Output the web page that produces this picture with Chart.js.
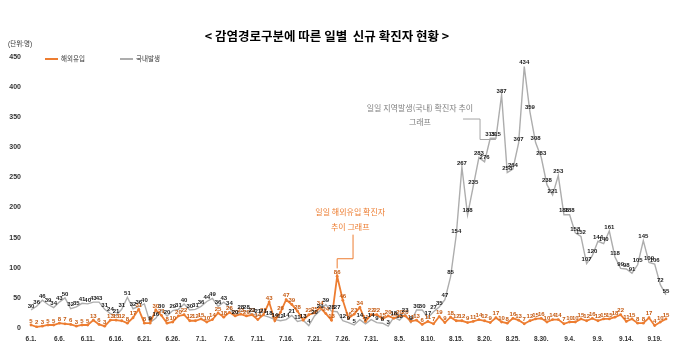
<!DOCTYPE html>
<html lang="ko">
<head>
<meta charset="utf-8">
<title>감염경로구분에 따른 일별 신규 확진자 현황</title>
<script src="https://cdn.jsdelivr.net/npm/chart.js@4.4.1/dist/chart.umd.min.js"></script>
<style>
    html, body { margin: 0; padding: 0; background: #fff; }
    #chart-wrap { position: relative; width: 680px; height: 353px; }
</style>
</head>
<body>
<div id="chart-wrap"><canvas id="cases-chart"></canvas></div>
<script>
// --- Data (2020.6.1. ~ 9.21.) ---
const months = [6, 7, 8, 9];
const daysShown = [30, 31, 31, 21];

const domesticJun = [30, 36, 46, 39, 34, 43, 50, 32, 35, 41, 40, 43, 43, 31, 24, 21, 31, 51, 32, 36, 40, 9, 16, 30, 20, 29, 31, 40, 30, 31];
const domesticJul = [36, 44, 49, 36, 43, 34, 20, 28, 28, 23, 21, 21, 18, 14, 12, 14, 21, 11, 13, 4, 20, 29, 39, 28, 27, 12, 9, 5, 14, 7, 14];
const domesticAug = [9, 8, 3, 18, 13, 23, 9, 30, 30, 17, 27, 35, 47, 85, 154, 267, 188, 235, 283, 276, 315, 315, 387, 258, 264, 307, 434, 359, 308, 283, 238];
const domesticSep = [221, 253, 188, 188, 158, 152, 107, 120, 144, 140, 161, 118, 99, 98, 91, 105, 145, 109, 106, 72, 55];

const importedJun = [5, 2, 3, 5, 5, 8, 7, 6, 3, 5, 5, 13, 6, 3, 13, 13, 12, 8, 17, 31, 8, 8, 30, 21, 8, 10, 20, 22, 12, 12];
const importedJul = [15, 10, 14, 25, 18, 26, 20, 23, 20, 22, 14, 22, 43, 12, 26, 47, 39, 28, 13, 22, 25, 34, 24, 13, 86, 46, 16, 23, 34, 11, 22];
const importedAug = [22, 15, 20, 16, 20, 20, 11, 13, 6, 11, 7, 19, 9, 18, 12, 12, 9, 11, 14, 12, 9, 17, 10, 8, 16, 13, 7, 12, 15, 16, 10];
const importedSep = [14, 14, 7, 10, 10, 15, 12, 16, 12, 15, 15, 18, 22, 11, 15, 8, 8, 17, 4, 10, 15];

const yTicks = [0, 50, 100, 150, 200, 250, 300, 350, 400, 450];

const titleText = '< 감염경로구분에 따른 일별  신규 확진자 현황 >';
const unitText = '(단위:명)';
const seriesNames = ['해외유입', '국내발생'];
const domesticNote = ['일일 지역발생(국내) 확진자 추이', '그래프'];
const importedNote = ['일일 해외유입 확진자', '추이 그래프'];

// --- Build categories ("6.1." ...) ---
const dayLabels = [];
months.forEach((m, i) => {
    for (let d = 1; d <= daysShown[i]; d++) dayLabels.push(`${m}.${d}.`);
});
const domestic = [...domesticJun, ...domesticJul, ...domesticAug, ...domesticSep];
const imported = [...importedJun, ...importedJul, ...importedAug, ...importedSep];

const FONT = "'Liberation Sans', 'Noto Sans CJK KR', sans-serif";
const ORANGE = '#ed7d31';
const GRAY = '#adadad';

// --- Plugins ---
// value labels just above every point
const valueLabels = {
    id: 'valueLabels',
    afterDatasetsDraw(chart) {
        const ctx = chart.ctx;
        ctx.save();
        ctx.font = `bold 6px ${FONT}`;
        ctx.textAlign = 'center';
        ctx.textBaseline = 'middle';
        chart.data.datasets.forEach((ds, i) => {
            const meta = chart.getDatasetMeta(i);
            ctx.fillStyle = ds.labelColor;
            meta.data.forEach((pt, j) => {
                ctx.fillText(ds.data[j], pt.x, pt.y - 4);
            });
        });
        ctx.restore();
    }
};

// title, unit, legend and the two call-out notes
const decorations = {
    id: 'decorations',
    afterDraw(chart) {
        const { ctx, scales: { x, y } } = chart;
        ctx.save();

        ctx.fillStyle = '#000';
        ctx.textAlign = 'center';
        ctx.textBaseline = 'middle';
        ctx.font = `bold 12.5px 'Noto Sans CJK KR', sans-serif`;
        ctx.fillText(titleText, 327, 36);

        ctx.textAlign = 'left';
        ctx.font = `6.5px ${FONT}`;
        ctx.fillStyle = '#333';
        ctx.fillText(unitText, 8, 44);

        // legend
        const legendItems = [[ORANGE, 45], [GRAY, 120]];
        legendItems.forEach(([color, lx], i) => {
            ctx.strokeStyle = color;
            ctx.lineWidth = 2;
            ctx.beginPath();
            ctx.moveTo(lx, 59);
            ctx.lineTo(lx + 13, 59);
            ctx.stroke();
            ctx.fillStyle = '#333';
            ctx.font = `6.5px ${FONT}`;
            ctx.fillText(seriesNames[i], lx + 16, 59);
        });

        // domestic note + connector
        ctx.textAlign = 'center';
        ctx.font = `8px 'Noto Sans CJK KR', sans-serif`;
        ctx.fillStyle = '#7f7f7f';
        ctx.fillText(domesticNote[0], x.getPixelForValue(68.6), y.getPixelForValue(365));
        ctx.fillText(domesticNote[1], x.getPixelForValue(68.6), y.getPixelForValue(342));
        ctx.strokeStyle = '#a5a5a5';
        ctx.lineWidth = 1;
        ctx.beginPath();
        ctx.moveTo(x.getPixelForValue(76.2), y.getPixelForValue(347));
        ctx.lineTo(x.getPixelForValue(79.2), y.getPixelForValue(347));
        ctx.lineTo(x.getPixelForValue(79.2), y.getPixelForValue(313));
        ctx.lineTo(x.getPixelForValue(82), y.getPixelForValue(313));
        ctx.stroke();

        // imported note + connector
        ctx.fillStyle = ORANGE;
        ctx.fillText(importedNote[0], x.getPixelForValue(56.3), y.getPixelForValue(193));
        ctx.fillText(importedNote[1], x.getPixelForValue(56.3), y.getPixelForValue(168));
        ctx.strokeStyle = ORANGE;
        ctx.beginPath();
        ctx.moveTo(x.getPixelForValue(56.8), y.getPixelForValue(155));
        ctx.lineTo(x.getPixelForValue(56.8), y.getPixelForValue(115));
        ctx.lineTo(x.getPixelForValue(54), y.getPixelForValue(115));
        ctx.lineTo(x.getPixelForValue(54), y.getPixelForValue(99));
        ctx.stroke();

        ctx.restore();
    }
};

// --- Chart ---
function renderCasesChart() {
    const ctx = document.getElementById('cases-chart');
    return new Chart(ctx, {
        type: 'line',
        data: {
            labels: dayLabels,
            datasets: [
                {
                    label: seriesNames[0],
                    data: imported,
                    borderColor: ORANGE,
                    backgroundColor: ORANGE,
                    borderWidth: 1.8,
                    pointRadius: 1.4,
                    pointBorderWidth: 0,
                    labelColor: '#c55a11',
                    tension: 0
                },
                {
                    label: seriesNames[1],
                    data: domestic,
                    borderColor: GRAY,
                    backgroundColor: GRAY,
                    borderWidth: 1.4,
                    pointRadius: 0,
                    labelColor: '#1a1a1a',
                    tension: 0
                }
            ]
        },
        options: {
            responsive: true,
            maintainAspectRatio: false,
            animation: false,
            events: [],
            layout: { padding: { left: 7, right: 14, top: 57, bottom: 4 } },
            plugins: {
                legend: { display: false },
                title: { display: false },
                tooltip: { enabled: false }
            },
            scales: {
                x: {
                    offset: false,
                    grid: { display: false, drawTicks: false },
                    border: { display: false },
                    afterFit: (scale) => { scale.height = 21; },
                    ticks: {
                        autoSkip: false,
                        maxRotation: 0,
                        padding: 7,
                        color: '#333',
                        font: { family: FONT, size: 6.5, weight: 'bold' },
                        callback: (val, i) => (i % 5 === 0 ? dayLabels[i] : '')
                    }
                },
                y: {
                    min: yTicks[0],
                    max: yTicks[yTicks.length - 1],
                    grid: { display: false, drawTicks: false },
                    border: { display: false },
                    afterFit: (scale) => { scale.width = 24; },
                    afterBuildTicks: (scale) => { scale.ticks = yTicks.map(v => ({ value: v })); },
                    ticks: {
                        padding: 10,
                        color: '#333',
                        font: { family: FONT, size: 7, weight: 'bold' }
                    }
                }
            }
        },
        plugins: [valueLabels, decorations]
    });
}

renderCasesChart();
</script>
</body>
</html>
